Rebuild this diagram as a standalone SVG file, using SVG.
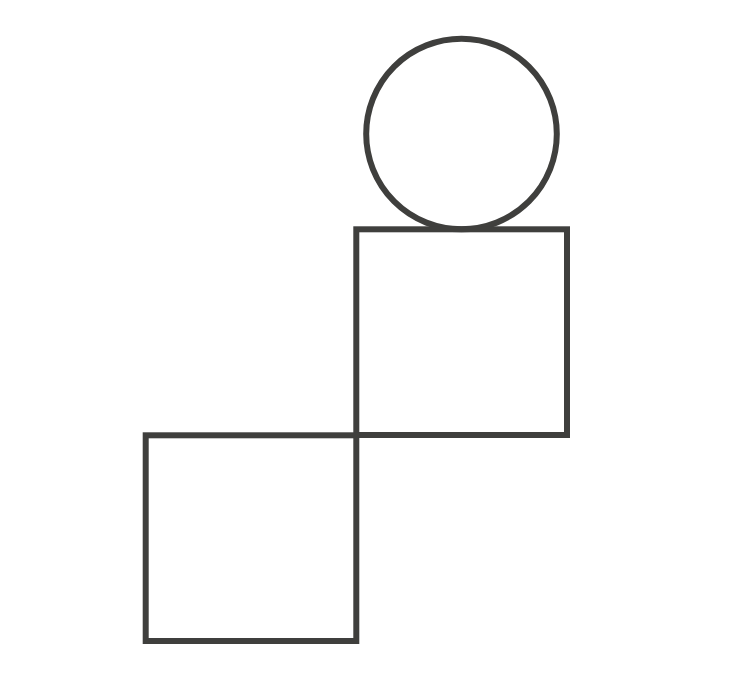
<svg xmlns="http://www.w3.org/2000/svg" width="745" height="680" viewBox="0 0 745 680">
<style>
.s{fill:none;stroke:#3f3f3d;stroke-width:6}
</style>
<rect width="745" height="680" fill="#ffffff"/>
<g id="circle"><circle class="s" cx="461.5" cy="134" r="95.3"/></g>
<g id="square-top"><rect class="s" x="356.3" y="229.3" width="210.7" height="205.7"/></g>
<g id="square-bottom"><rect class="s" x="145.7" y="435.3" width="210.6" height="205.7"/></g>
</svg>
